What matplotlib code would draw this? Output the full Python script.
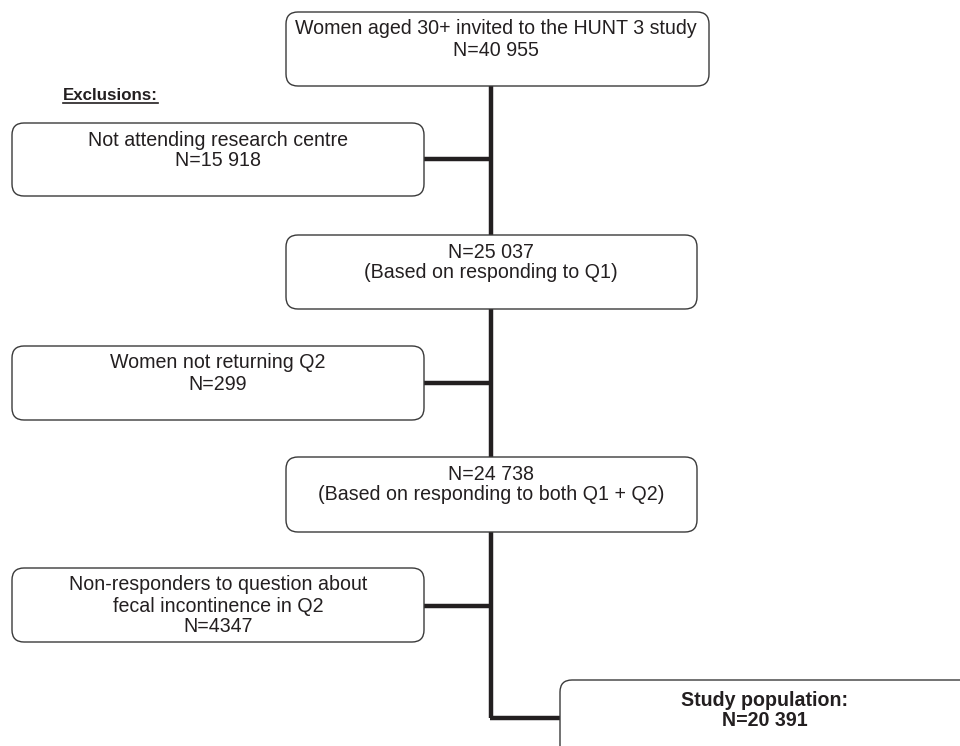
import matplotlib
matplotlib.use("Agg")
import matplotlib.pyplot as plt
from matplotlib.patches import FancyBboxPatch

plt.rcParams['font.family'] = ['Liberation Sans', 'DejaVu Sans']

# Flowchart content
main_labels = [
    ["Women aged 30+ invited to the HUNT 3 study", "N=40 955"],
    ["N=25 037", "(Based on responding to Q1)"],
    ["N=24 738", "(Based on responding to both Q1 + Q2)"],
]
excl_labels = [
    ["Not attending research centre", "N=15 918"],
    ["Women not returning Q2", "N=299"],
    ["Non-responders to question about", "fecal incontinence in Q2", "N=4347"],
]
final_labels = ["Study population:", "N=20 391"]
excl_title = "Exclusions:"

# Layout (pixel coordinates, y downward)
main_boxes = [(286, 12, 709, 86), (286, 235, 697, 309), (286, 457, 697, 532)]
main_text_x = [496, 491, 491]
excl_boxes = [(12, 123, 424, 196), (12, 346, 424, 420), (12, 568, 424, 642)]
excl_conn_y = [159, 383, 606]
final_box = (560, 680, 990, 770)
final_text_y = [706, 726]
spine_x = 491
first_baseline = 22.5
line_step = 21.0

fig = plt.figure(figsize=(9.6, 7.46), dpi=100)
ax = fig.add_axes([0, 0, 1, 1])
ax.set_xlim(0, 960)
ax.set_ylim(746, 0)
ax.axis('off')

edge = '#3a3a3a'
txt = '#231f20'
lw_line = 3.2

def box(x0, y0, x1, y1):
    p = FancyBboxPatch((x0, y0), x1 - x0, y1 - y0,
                       boxstyle="round,pad=0,rounding_size=12",
                       fc='white', ec=edge, lw=1.0, zorder=3)
    ax.add_patch(p)

# Spine
ax.plot([spine_x, spine_x], [86, 718], color=txt, lw=lw_line, zorder=1,
        solid_capstyle='butt')
# Connectors
for cy in excl_conn_y:
    ax.plot([424, spine_x], [cy, cy], color=txt, lw=lw_line, zorder=1,
            solid_capstyle='butt')
ax.plot([spine_x - 1.5, 560], [718, 718], color=txt, lw=lw_line, zorder=1,
        solid_capstyle='butt')

fs = 14.1
for b, lines, cx in zip(main_boxes, main_labels, main_text_x):
    box(*b)
    for i, line in enumerate(lines):
        ax.text(cx, b[1] + first_baseline + i * line_step, line, ha='center',
                va='baseline', fontsize=fs, color=txt, zorder=4)

for b, lines in zip(excl_boxes, excl_labels):
    box(*b)
    cx = (b[0] + b[2]) / 2
    for i, line in enumerate(lines):
        ax.text(cx, b[1] + first_baseline + i * line_step, line, ha='center',
                va='baseline', fontsize=fs, color=txt, zorder=4)

box(*final_box)
for line, y in zip(final_labels, final_text_y):
    ax.text(765, y, line, ha='center', va='baseline', fontsize=fs, color=txt,
            fontweight='bold', zorder=4)

# Exclusions title
ax.text(63, 100, excl_title, ha='left', va='baseline', fontsize=12.2, color=txt,
        fontweight='bold', zorder=4)
ax.plot([63, 158], [102.5, 102.5], color=txt, lw=1.2)

fig.savefig('out.png', dpi=100)
